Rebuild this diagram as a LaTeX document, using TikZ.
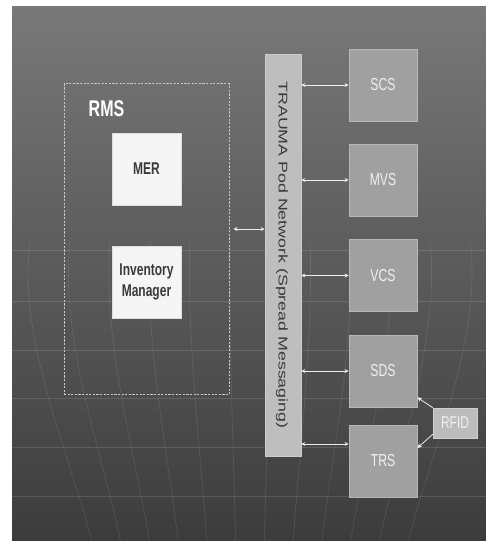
\documentclass[tikz,border=0pt]{standalone}
\usepackage{fontspec}
\setmainfont{Liberation Sans}
\usetikzlibrary{arrows.meta,calc}
\definecolor{bgtop}{HTML}{787878}
\definecolor{bgmid}{HTML}{5A5A5A}
\definecolor{bgbot}{HTML}{3C3C3C}
\definecolor{dashcol}{HTML}{C8C8C8}
\definecolor{whitefill}{HTML}{F5F5F5}
\definecolor{whiteedge}{HTML}{DDDDDD}
\definecolor{darktext}{HTML}{3A3A3A}
\definecolor{barfill}{HTML}{BEBEBE}
\definecolor{baredge}{HTML}{CCCCCC}
\definecolor{sysfill}{HTML}{A0A0A0}
\definecolor{sysedge}{HTML}{B8B8B8}
\definecolor{lighttext}{HTML}{F0F0F0}
\definecolor{rfidfill}{HTML}{BCBCBC}
\definecolor{rfidedge}{HTML}{CFCFCF}
\definecolor{arrowcol}{HTML}{EEEEEE}
\newcommand\talltext[1]{\scalebox{1}[1.42]{#1}}
\begin{document}
\begin{tikzpicture}[x=1pt,y=1pt,
  gridline/.style={draw=white, opacity=0.13, line width=0.8pt},
  curveline/.style={draw=white, opacity=0.09, line width=0.8pt},
  rmsbox/.style={draw=dashcol, line width=1pt, dash pattern=on 2.2pt off 1.4pt, minimum width=165pt, minimum height=311pt, inner sep=0pt},
  whitebox/.style={draw=whiteedge, fill=whitefill, line width=0.6pt, minimum width=69pt, minimum height=72pt, inner sep=0pt, text=darktext, font=\bfseries\fontsize{12}{14.8}\selectfont, align=center},
  barbox/.style={draw=baredge, fill=barfill, line width=0.6pt, minimum width=36pt, minimum height=402pt, inner sep=0pt},
  sysbox/.style={draw=sysedge, fill=sysfill, line width=0.8pt, minimum width=68pt, minimum height=72pt, inner sep=0pt, text=lighttext, font=\fontsize{12.2}{14}\selectfont},
  rfidbox/.style={draw=rfidedge, fill=rfidfill, line width=0.6pt, minimum width=44pt, minimum height=30pt, inner sep=0pt, text=lighttext, font=\fontsize{12}{14}\selectfont},
  dbl/.style={draw=arrowcol, line width=0.8pt, >={Stealth[length=4pt,width=4pt]}, <->},
  sgl/.style={draw=arrowcol, line width=0.8pt, >={Stealth[length=4.5pt,width=4.5pt]}, ->}
]
\useasboundingbox (0,0) rectangle (486,541);
\fill[white] (0,0) rectangle (486,541);
\shade[top color=bgtop, middle color=bgmid, bottom color=bgbot] (12,0) rectangle (486,534);
% faint grid lines
\foreach \yy in {291,240,191,143,94,45} {\draw[gridline] (12,\yy) -- (486,\yy);}
\foreach \xt in {30,70,110,150,190,230,270,310,350,390,430,470} {
  \pgfmathsetmacro{\xb}{250+(\xt-250)*0.72}
  \pgfmathsetmacro{\ca}{\xt+(\xt-250)*0.06}
  \pgfmathsetmacro{\cb}{\xb+(\xb-250)*0.12}
  \draw[curveline] (\xt,300) .. controls (\ca,200) and (\cb,80) .. (\xb,0);
}
% RMS group
\node[rmsbox] (rms) at (146.5,301.5) {};
\node[text=white, font=\bfseries\fontsize{16}{19}\selectfont] (rmslabel) at (106.5,432.5) {\talltext{RMS}};
\node[whitebox] (mer) at (146.5,372) {\talltext{MER}};
\node[whitebox] (inv) at (146.5,259) {\talltext{\begin{tabular}{@{}c@{}}Inventory\\Manager\end{tabular}}};
% network bar
\node[barbox] (bar) at (283,286) {};
\node[rotate=-90, text=darktext, font=\fontsize{12.7}{15}\selectfont, inner sep=0pt] (bartext) at (281.8,286) {\scalebox{1.4}[1]{TRAUMA Pod Network (Spread Messaging)}};
% subsystems
\node[sysbox] (scs) at (383,456) {\talltext{SCS}};
\node[sysbox] (mvs) at (383,361) {\talltext{MVS}};
\node[sysbox] (vcs) at (383,265.5) {\talltext{VCS}};
\node[sysbox] (sds) at (383,170) {\talltext{SDS}};
\node[sysbox] (trs) at (383,80) {\talltext{TRS}};
\node[rfidbox] (rfid) at (455,118) {\talltext{RFID}};
% connectors
\coordinate (ra) at ([shift={(4pt,10.5pt)}]rms.east);
\draw[dbl] (ra) -- (ra -| bar.west);
\draw[dbl] (bar.east |- scs.west) -- (scs.west);
\draw[dbl] (bar.east |- mvs.west) -- (mvs.west);
\draw[dbl] (bar.east |- vcs.west) -- (vcs.west);
\draw[dbl] (bar.east |- sds.west) -- (sds.west);
\coordinate (tw) at ([yshift=17pt]trs.west);
\draw[dbl] (bar.east |- tw) -- (tw);
\coordinate (sdstip) at ([yshift=10pt]sds.south east);
\coordinate (trstip) at ([yshift=13pt]trs.east);
\draw[sgl] (rfid.north west) -- (sdstip);
\draw[sgl] ([yshift=4pt]rfid.south west) -- (trstip);
\end{tikzpicture}
\end{document}
